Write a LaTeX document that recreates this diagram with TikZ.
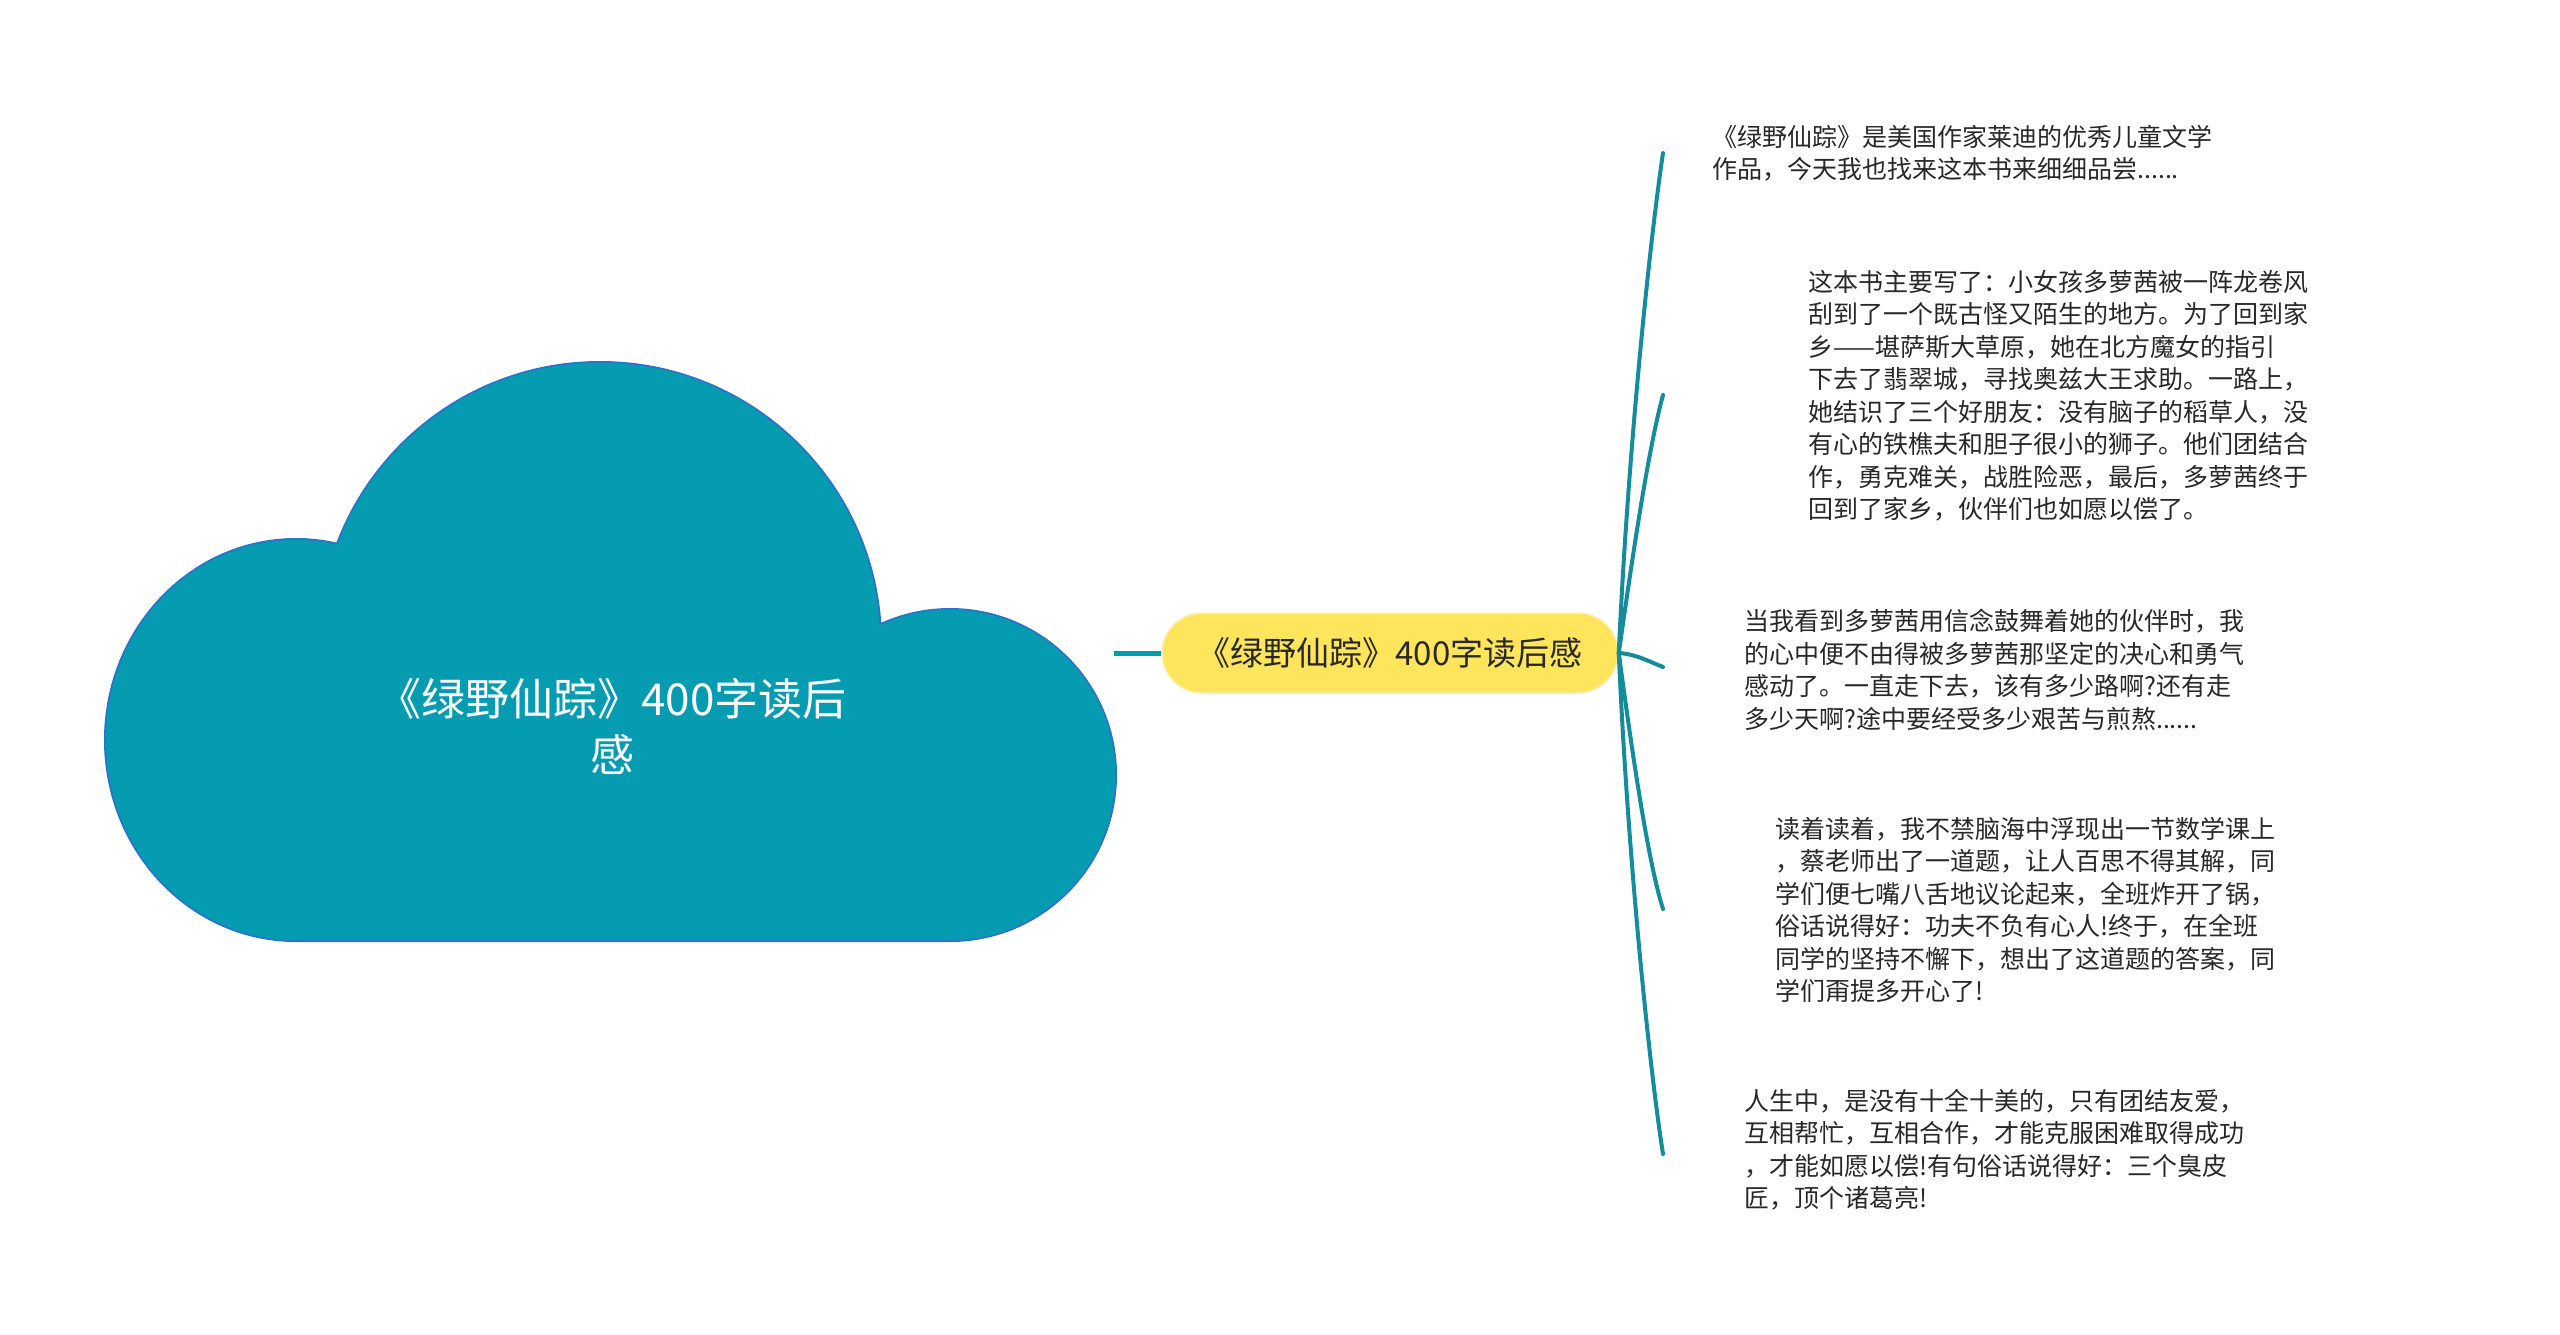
\documentclass[tikz,border=0pt]{standalone}
\usepackage{fontspec}
\newfontfamily\cjk{Noto Sans CJK SC}
\definecolor{cloudfill}{RGB}{5,156,178}
\definecolor{cloudline}{RGB}{40,118,200}
\definecolor{pillfill}{RGB}{255,229,92}
\definecolor{pillline}{RGB}{250,238,180}
\definecolor{branchcol}{RGB}{20,140,156}
\definecolor{leaftext}{RGB}{40,40,40}

\begin{document}
\begin{tikzpicture}[x=1pt,y=-1pt,
  title/.style={align=center,text=white,inner sep=0pt,font=\cjk\fontsize{44pt}{56pt}\selectfont},
  pill/.style={draw=pillline,line width=1.5pt,fill=pillfill,rounded corners=40pt,
    minimum width=456pt,minimum height=80pt,inner sep=0pt,text=leaftext,
    font=\cjk\fontsize{33pt}{40pt}\selectfont},
  leaf/.style={anchor=north west,inner sep=0pt,align=left,text=leaftext,
    font=\cjk\fontsize{25pt}{32.5pt}\selectfont},
  link/.style={draw=cloudfill,line width=5pt},
  branch/.style={draw=branchcol,line width=4pt,line cap=round}]
  \useasboundingbox (0,0) rectangle (2560,1334);
  \newcommand{\cloudpath}{(296,740) ellipse[x radius=190pt,y radius=200pt]
    (600,643) circle[radius=280pt]
    (950,775) ellipse[x radius=165pt,y radius=165pt]
    (296,700) rectangle (950,940)}
  % outline first, the fill then hides the inner seams
  \path[draw=cloudline,line width=4pt] \cloudpath;
  \path[fill=cloudfill] \cloudpath;
  \node[title] (root) at (612,726) {《绿野仙踪》400字读后\\感};
  \node[pill] (topic) at (1390,653) {《绿野仙踪》400字读后感};
  \coordinate (cloudR) at (1114,653);
  \draw[link] (cloudR) -- (topic.west);

  \coordinate (e1) at (1663,153);
  \coordinate (e2) at (1663,395);
  \coordinate (e3) at (1663,667);
  \coordinate (e4) at (1663,909);
  \coordinate (e5) at (1663,1154);
  \draw[branch] (topic.east) .. controls (1628,450) and (1650,240) .. (e1);
  \draw[branch] (topic.east) .. controls (1632,560) and (1648,450) .. (e2);
  \draw[branch] (topic.east) .. controls (1636,654) and (1650,662) .. (e3);
  \draw[branch] (topic.east) .. controls (1632,752) and (1648,862) .. (e4);
  \draw[branch] (topic.east) .. controls (1628,862) and (1650,1072) .. (e5);

  \node[leaf] (t1) at (1712,125) {《绿野仙踪》是美国作家莱迪的优秀儿童文学\\
    作品，今天我也找来这本书来细细品尝......};
  \node[leaf] (t2) at (1808,270) {这本书主要写了：小女孩多萝茜被一阵龙卷风\\
    刮到了一个既古怪又陌生的地方。为了回到家\\
    乡——堪萨斯大草原，她在北方魔女的指引\\
    下去了翡翠城，寻找奥兹大王求助。一路上，\\
    她结识了三个好朋友：没有脑子的稻草人，没\\
    有心的铁樵夫和胆子很小的狮子。他们团结合\\
    作，勇克难关，战胜险恶，最后，多萝茜终于\\
    回到了家乡，伙伴们也如愿以偿了。};
  \node[leaf] (t3) at (1744,609) {当我看到多萝茜用信念鼓舞着她的伙伴时，我\\
    的心中便不由得被多萝茜那坚定的决心和勇气\\
    感动了。一直走下去，该有多少路啊?还有走\\
    多少天啊?途中要经受多少艰苦与煎熬......};
  \node[leaf] (t4) at (1775,817) {读着读着，我不禁脑海中浮现出一节数学课上\\
    ，蔡老师出了一道题，让人百思不得其解，同\\
    学们便七嘴八舌地议论起来，全班炸开了锅，\\
    俗话说得好：功夫不负有心人!终于，在全班\\
    同学的坚持不懈下，想出了这道题的答案，同\\
    学们甭提多开心了!};
  \node[leaf] (t5) at (1744,1089) {人生中，是没有十全十美的，只有团结友爱，\\
    互相帮忙，互相合作，才能克服困难取得成功\\
    ，才能如愿以偿!有句俗话说得好：三个臭皮\\
    匠，顶个诸葛亮!};
\end{tikzpicture}
\end{document}
